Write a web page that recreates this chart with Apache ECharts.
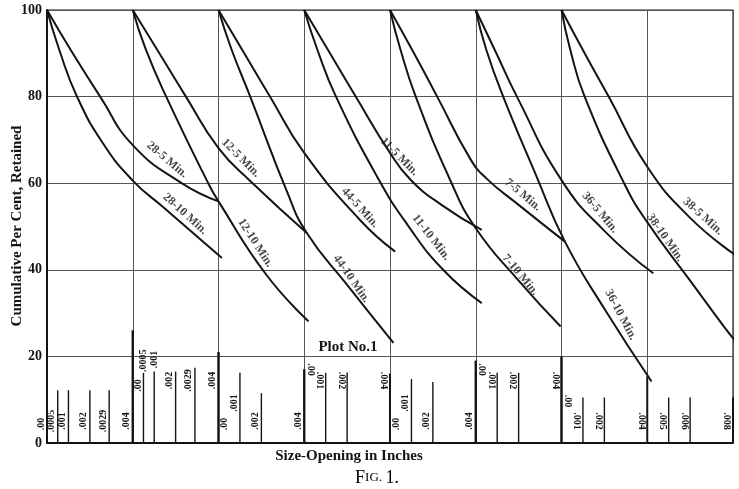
<!DOCTYPE html>
<html><head><meta charset="utf-8">
<script src="https://cdn.jsdelivr.net/npm/echarts@6/dist/echarts.min.js"></script>
<style>html,body{margin:0;padding:0;background:#fff}#c{width:739px;height:489px}</style>
</head><body><div id="c"></div>
<script>
// ---------- data (x in grid columns, y in cumulative per cent retained) ----------
const yTicks = [0, 20, 40, 60, 80, 100];
const curveNames = ['28-5 Min.','28-10 Min.','12-5 Min.','12-10 Min.','44-5 Min.','44-10 Min.','11-5 Min.','11-10 Min.','7-5 Min.','7-10 Min.','36-5 Min.','36-10 Min.','38-5 Min.','38-10 Min.'];
const c28_5  = [[0,100],[0.3,90],[0.62,80],[1.0,68.8],[1.57,60],[2.0,55.8]];
const c28_10 = [[0,100],[0.14,91],[0.35,80],[0.66,69],[1.0,60.6],[1.36,54.4],[1.75,47.7],[2.04,42.7]];
const c12_5  = [[1,100],[1.31,90],[1.62,80],[2.0,68.1],[2.37,60.5],[3.03,48.5]];
const c12_10 = [[1,100],[1.15,91],[1.39,80],[1.88,60],[2.0,55.8],[2.56,38.8],[3.05,28.1]];
const c44_5  = [[2,100],[2.3,90],[2.6,80],[3.0,67],[3.65,51.5],[4.06,44.2]];
const c44_10 = [[2,100],[2.15,91],[2.37,80],[2.8,58],[3.03,48.5],[3.5,36.5],[4.04,23.1]];
const c11_5  = [[3,100],[3.3,90],[3.6,80],[4.0,67],[4.24,60.8],[4.6,55],[5.07,49.2]];
const c11_10 = [[3,100],[3.15,91],[3.37,80],[3.87,60.8],[4.2,50.5],[4.62,40],[5.07,32.3]];
const c7_5   = [[4,100],[4.28,90],[4.55,80],[4.94,65.5],[5.13,61],[5.5,55],[6.04,46.5]];
const c7_10  = [[4,100],[4.12,91],[4.3,80],[4.7,60.8],[5.0,49.6],[5.5,37.5],[5.99,26.9]];
const c36_5  = [[5,100],[5.24,90],[5.48,80],[6.0,60.7],[6.5,49],[7.07,39.2]];
const c36_10 = [[5,100],[5.12,91],[5.32,80],[5.7,62],[6.04,46.5],[6.5,31],[7.05,14.2]];
const c38_5  = [[6,100],[6.27,90],[6.55,80],[7.0,63.8],[7.5,52],[8.05,43.1]];
const c38_10 = [[6,100],[6.1,91],[6.27,80],[6.73,60],[7.0,51],[7.5,37.5],[7.89,27],[8.05,23]];
const curveData = [c28_5,c28_10,c12_5,c12_10,c44_5,c44_10,c11_5,c11_10,c7_5,c7_10,c36_5,c36_10,c38_5,c38_10];
// label anchor points (data units) for each curve name
const labelAt = [[1.40,65.4],[1.61,52.9],[2.26,65.8],[2.43,46.2],[3.65,54.3],[3.55,37.9],[4.11,66.1],[4.48,47.5],[5.55,57.3],[5.52,38.8],[6.45,53.2],[6.69,29.6],[7.65,52.3],[7.21,47.4]];

// size-opening scales drawn inside the plot, one per starting column
const inchesPerColumn = 0.004;
const tickStartCol = [0,1,2,3,4,5,6];
const tickSizes = [
  [0,0.0005,0.001,0.002,0.0029,0.004],
  [0,0.0005,0.001,0.002,0.0029,0.004],
  [0,0.001,0.002,0.004],
  [0,0.001,0.002,0.004],
  [0,0.001,0.002,0.004],
  [0,0.001,0.002,0.004],
  [0,0.001,0.002,0.004,0.005,0.006,0.008]
];
const tickText = [
  ['.00','.0005','.001','.002','.0029','.004'],
  ['.00','.0005','.001','.002','.0029','.004'],
  ['.00','.001','.002','.004'],
  ['.00','.001','.002','.004'],
  ['.00','.001','.002','.004'],
  ['.00','.001','.002','.004'],
  ['.00','.001','.002','.004','.005','.006','.008']
];
const tickHeight = [
  [0,12.2,12.2,12.2,12.2,26],
  [26,16.2,16.5,16.5,17.4,21],
  [21,16.2,11.5,17],
  [17,16.2,16.3,16],
  [16,14.8,14.1,19],
  [19,16.2,16.2,20],
  [20,10.5,10.5,15.4,10.5,10.5,10.5]
];
const yTitle = 'Cumulative Per Cent, Retained';
const xTitle = 'Size-Opening in Inches';

// ---------- styling ----------
const serif = '"Liberation Serif","DejaVu Serif",serif';
const ink = '#141414';
const labelAngle = [-40,-42,-45,-57,-48,-55,-45,-52,-40,-50,-50,-62,-42,-55];
const groupMode = ['bottom','top','bottom','top','bottom','top','bottom'];
const groupRot = [90,90,90,-90,90,-90,-90];

const tickItems = [];
tickStartCol.forEach((s, g) => {
  tickSizes[g].forEach((sz, k) => {
    tickItems.push({value: [s + sz / inchesPerColumn, tickHeight[g][k]], g, k, text: tickText[g][k]});
  });
});

const series = curveData.map((d, i) => ({
  type: 'line', name: curveNames[i], data: d, symbol: 'none', smooth: 0.5,
  clip: false, silent: true, lineStyle: {color: ink, width: 2}, z: 5
}));

series.push({
  type: 'scatter', symbolSize: 0, silent: true, z: 6,
  data: labelAt.map((p, i) => ({
    value: p, name: curveNames[i],
    label: {show: true, rotate: labelAngle[i], formatter: curveNames[i], position: 'inside',
      fontFamily: serif, fontWeight: 'bold', fontSize: 12, color: ink}
  }))
});

series.push({
  type: 'custom', coordinateSystem: 'cartesian2d', clip: false, silent: true, z: 4,
  data: tickItems.map(t => t.value),
  renderItem(params, api) {
    const t = tickItems[params.dataIndex];
    const x = api.value(0), h = api.value(1);
    const p0 = api.coord([x, 0]);
    const p1 = api.coord([x, h]);
    const y0 = p0[1];
    const isStart = t.k === 0;
    const isBoundary = isStart || Math.abs(x - Math.round(x)) < 1e-6;
    const children = [];
    if (h > 0) {
      children.push({type: 'line', shape: {x1: p0[0], y1: y0, x2: p1[0], y2: p1[1]},
        style: {stroke: ink, lineWidth: isBoundary ? 2 : 1.4}});
    }
    let lx = p0[0] + (isStart ? (t.g === 0 ? -6 : 6) : -6);
    let ly;
    if (groupMode[t.g] === 'bottom') {
      ly = isStart ? y0 - 19 : y0 - 22;
      if (t.g > 0 && t.g < 6 && t.k === 1) ly = y0 - 40;
      if (t.g === 6 && t.k === 0) ly = y0 - 42;
    } else {
      const top = api.coord([x, 17])[1];
      ly = isStart ? top + (t.g === 1 ? 16 : 0) : top + 11;
      if (t.g === 1 && (t.k === 1 || t.k === 2)) {
        lx = p0[0];
        ly = p1[1] - 12;
      }
    }
    children.push({type: 'text', x: lx, y: ly, rotation: groupRot[t.g] * Math.PI / 180,
      style: {text: t.text, x: 0, y: 0, align: 'center', verticalAlign: 'middle',
        font: 'bold 10px ' + serif, fill: ink}});
    return {type: 'group', children};
  }
});

const chart = echarts.init(document.getElementById('c'));
chart.setOption({
  animation: false,
  backgroundColor: '#fff',
  grid: {left: 47, right: 6, top: 10, bottom: 46, show: true, borderColor: '#222', borderWidth: 1.2,
    containLabel: false, outerBoundsMode: 'none'},
  xAxis: {type: 'value', min: 0, max: 8, interval: 1,
    axisLine: {show: true, onZero: false, lineStyle: {color: ink, width: 2}},
    axisTick: {show: false}, axisLabel: {show: false},
    splitLine: {show: true, lineStyle: {color: '#555', width: 1}}},
  yAxis: {type: 'value', min: yTicks[0], max: yTicks[yTicks.length - 1], interval: 20,
    axisLine: {show: true, lineStyle: {color: ink, width: 2}},
    axisTick: {show: false},
    axisLabel: {margin: 5, fontFamily: serif, fontWeight: 'bold', fontSize: 14, color: ink},
    splitLine: {show: true, lineStyle: {color: '#555', width: 1}}},
  graphic: [
    {type: 'text', x: 17, y: 226, rotation: Math.PI / 2, silent: true,
      style: {text: yTitle, align: 'center', verticalAlign: 'middle', font: 'bold 15px ' + serif, fill: ink}},
    {type: 'text', x: 349, y: 456, silent: true,
      style: {text: xTitle, align: 'center', verticalAlign: 'middle', font: 'bold 15px ' + serif, fill: ink}},
    {type: 'text', x: 377, y: 478, silent: true,
      style: {text: '{a|F}{b|IG.} {a|1.}', align: 'center', verticalAlign: 'middle',
        rich: {a: {fontFamily: serif, fontSize: 18, color: ink}, b: {fontFamily: serif, fontSize: 13, color: ink}}}},
    {type: 'text', x: 348, y: 347, silent: true,
      style: {text: 'Plot No.1', align: 'center', verticalAlign: 'middle', font: 'bold 15px ' + serif, fill: ink}}
  ],
  series
});
</script></body></html>
